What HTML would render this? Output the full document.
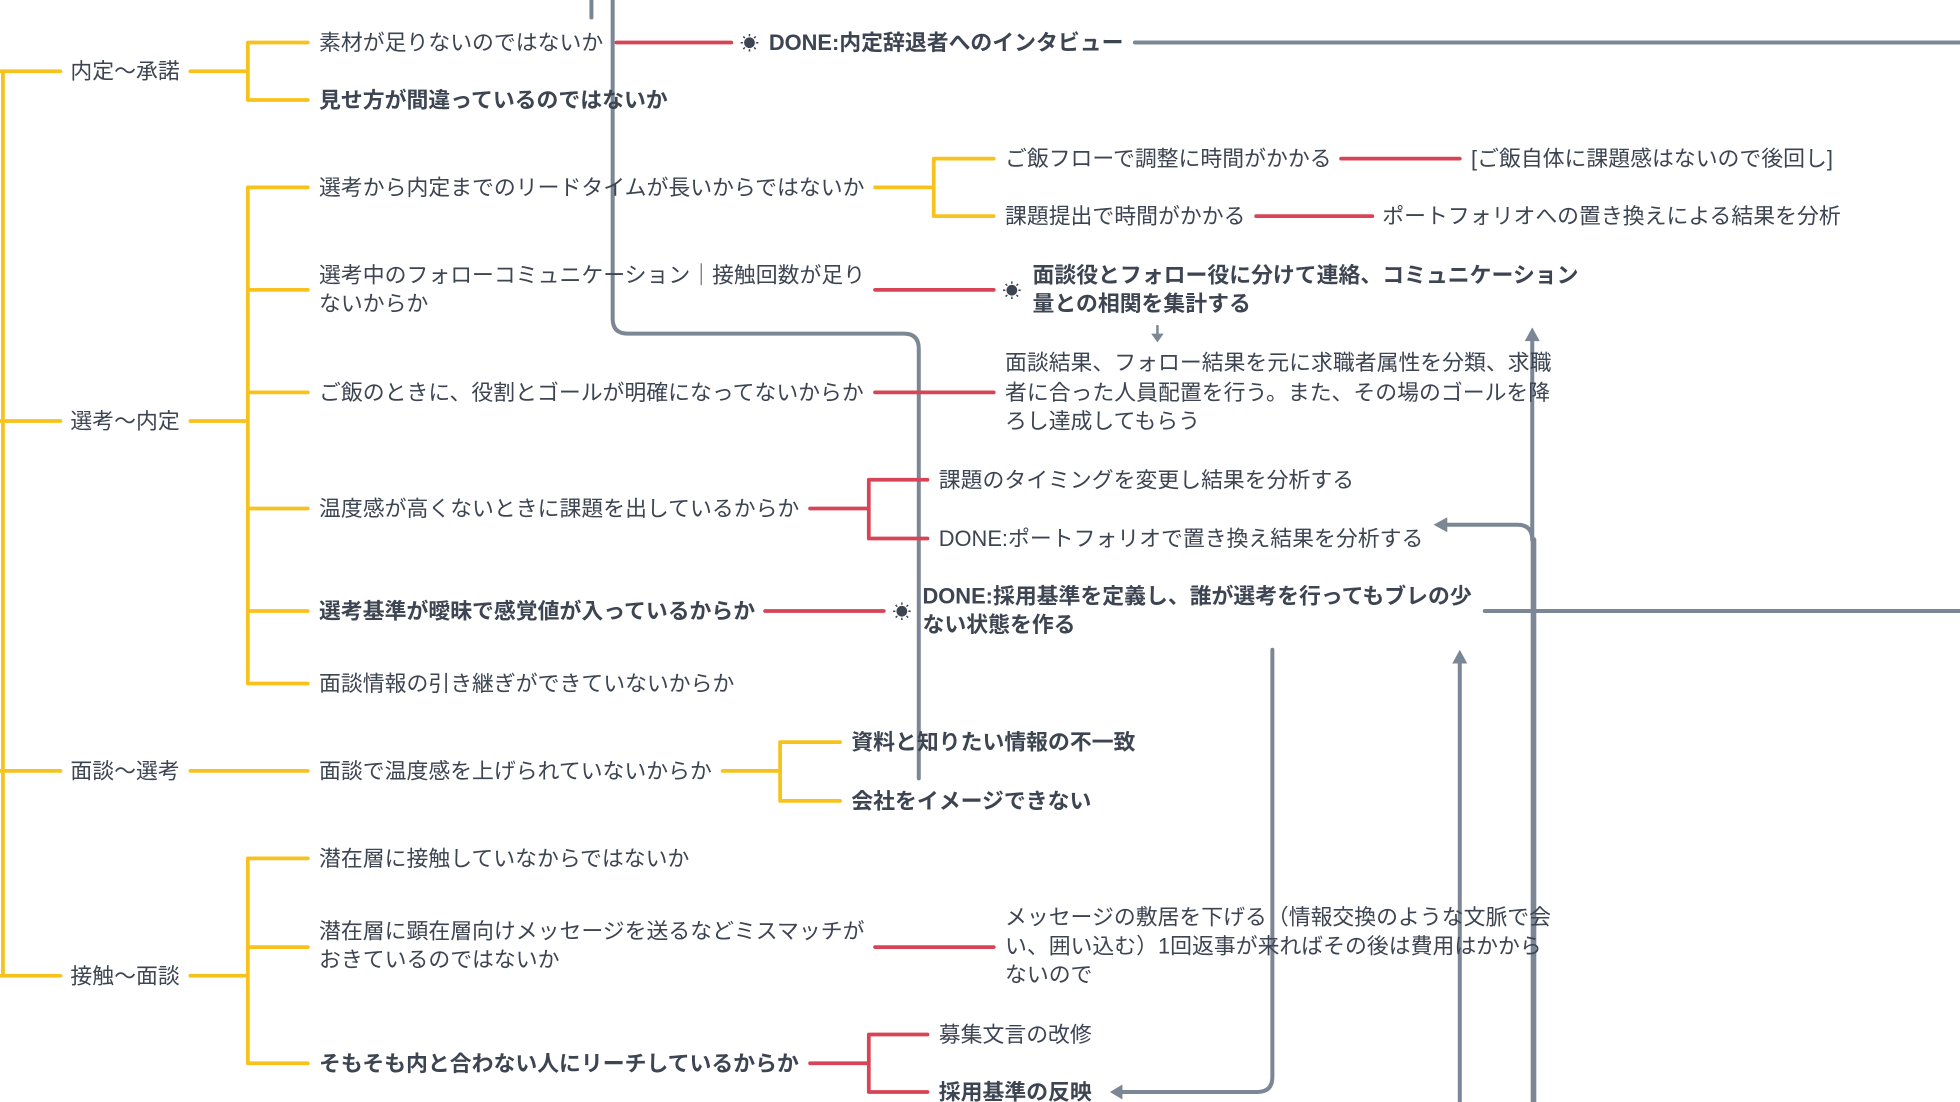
<!DOCTYPE html>
<html><head><meta charset="utf-8"><style>
html,body{margin:0;padding:0;background:#fff;width:1960px;height:1102px;overflow:hidden}
svg{display:block}
text{font-family:"Liberation Sans","Noto Sans CJK JP",sans-serif;font-size:17.5px;fill:#3d4452}
.b{font-weight:bold}
.y{stroke:#F7C21C;stroke-width:3;fill:none;stroke-linecap:round}
.r{stroke:#D84455;stroke-width:3;fill:none;stroke-linecap:round}
.g{stroke:#7B8794;stroke-width:3.2;fill:none;stroke-linecap:round}
</style></head><body>
<svg width="1960" height="1102" viewBox="0 0 1568 882" xmlns="http://www.w3.org/2000/svg">
<!-- gray connectors (behind) -->
<path class="g" d="M473 0 V14"/>
<path class="g" d="M490 0 V255 Q490 267 502 267 H723 Q735 267 735 279 V623"/>
<path class="g" d="M908 34 H1568"/>
<path class="g" d="M1188 489 H1568"/>
<path class="g" d="M1018 520 V862 Q1018 874 1006 874 H896"/>
<path d="M888 874 L898 868 L898 880 Z" fill="#7B8794"/>
<path class="g" d="M1168 882 V530"/>
<path d="M1168 520 L1162 531 L1174 531 Z" fill="#7B8794"/>
<path class="g" d="M1226 432 V270"/>
<path d="M1226 262 L1220 273 L1232 273 Z" fill="#7B8794"/>
<path class="g" d="M1156 420 H1214 Q1226 420 1226 432"/>
<path d="M1147 420 L1158 414 L1158 426 Z" fill="#7B8794"/>
<path class="g" style="stroke-width:4.5" d="M1227 432 V882"/>
<path class="g" style="stroke-width:2" d="M926 261 V270"/>
<path d="M926 274 L921 267 L931 267 Z" fill="#7B8794"/>

<!-- root -->
<path class="y" d="M2 57 V781"/>
<path class="y" d="M0 57 H48 M0 337 H48 M0 617 H48 M0 781 H48"/>
<text x="56" y="63">内定〜承諾</text>
<text x="56" y="343">選考〜内定</text>
<text x="56" y="623">面談〜選考</text>
<text x="56" y="787">接触〜面談</text>

<!-- group1 -->
<path class="y" d="M152 57 H198 M198 34 V80 M198 34 H246 M198 80 H246"/>
<text x="255" y="40">素材が足りないのではないか</text>
<text x="255" y="86" class="b">見せ方が間違っているのではないか</text>
<path class="r" d="M493 34 H585"/>
<text x="592" y="40" style="font-size:15px">☀</text>
<text x="615" y="40" class="b">DONE:内定辞退者へのインタビュー</text>

<!-- group2 -->
<path class="y" d="M152 337 H198 M198 150 V547 M198 150 H246 M198 232 H246 M198 314 H246 M198 407 H246 M198 489 H246 M198 547 H246"/>
<text x="255" y="156">選考から内定までのリードタイムが長いからではないか</text>
<path class="y" d="M700 150 H747 M747 127 V173 M747 127 H795 M747 173 H795"/>
<text x="804" y="133">ご飯フローで調整に時間がかかる</text>
<text x="804" y="179">課題提出で時間がかかる</text>
<path class="r" d="M1073 127 H1168 M1005 173 H1098"/>
<text x="1177" y="133">[ご飯自体に課題感はないので後回し]</text>
<text x="1106" y="179">ポートフォリオへの置き換えによる結果を分析</text>

<text x="255" y="226">選考中のフォローコミュニケーション｜接触回数が足り</text>
<text x="255" y="249">ないからか</text>
<path class="r" d="M700 232 H795"/>
<text x="802" y="238" style="font-size:15px">☀</text>
<text x="826" y="226" class="b">面談役とフォロー役に分けて連絡、コミュニケーション</text>
<text x="826" y="249" class="b">量との相関を集計する</text>

<text x="255" y="320">ご飯のときに、役割とゴールが明確になってないからか</text>
<path class="r" d="M700 314 H795"/>
<text x="804" y="296">面談結果、フォロー結果を元に求職者属性を分類、求職</text>
<text x="804" y="320">者に合った人員配置を行う。また、その場のゴールを降</text>
<text x="804" y="343">ろし達成してもらう</text>

<text x="255" y="413">温度感が高くないときに課題を出しているからか</text>
<path class="r" d="M648 407 H695 M695 384 V431 M695 384 H742 M695 431 H742"/>
<text x="751" y="390">課題のタイミングを変更し結果を分析する</text>
<text x="751" y="437">DONE:ポートフォリオで置き換え結果を分析する</text>

<text x="255" y="495" class="b">選考基準が曖昧で感覚値が入っているからか</text>
<path class="r" d="M612 489 H707"/>
<text x="714" y="495" style="font-size:15px">☀</text>
<text x="738" y="483" class="b">DONE:採用基準を定義し、誰が選考を行ってもブレの少</text>
<text x="738" y="506" class="b">ない状態を作る</text>

<text x="255" y="553">面談情報の引き継ぎができていないからか</text>

<!-- group3 -->
<path class="y" d="M152 617 H246"/>
<text x="255" y="623">面談で温度感を上げられていないからか</text>
<path class="y" d="M578 617 H624 M624 594 V641 M624 594 H672 M624 641 H672"/>
<text x="681" y="600" class="b">資料と知りたい情報の不一致</text>
<text x="681" y="647" class="b">会社をイメージできない</text>

<!-- group4 -->
<path class="y" d="M152 781 H198 M198 687 V851 M198 687 H246 M198 758 H246 M198 851 H246"/>
<text x="255" y="693">潜在層に接触していなからではないか</text>
<text x="255" y="751">潜在層に顕在層向けメッセージを送るなどミスマッチが</text>
<text x="255" y="774">おきているのではないか</text>
<path class="r" d="M700 758 H795"/>
<text x="804" y="740">メッセージの敷居を下げる（情報交換のような文脈で会</text>
<text x="804" y="763">い、囲い込む）1回返事が来ればその後は費用はかから</text>
<text x="804" y="786">ないので</text>
<text x="255" y="857" class="b">そもそも内と合わない人にリーチしているからか</text>
<path class="r" d="M648 851 H695 M695 828 V874 M695 828 H742 M695 874 H742"/>
<text x="751" y="834">募集文言の改修</text>
<text x="751" y="880" class="b">採用基準の反映</text>
</svg>
</body></html>
